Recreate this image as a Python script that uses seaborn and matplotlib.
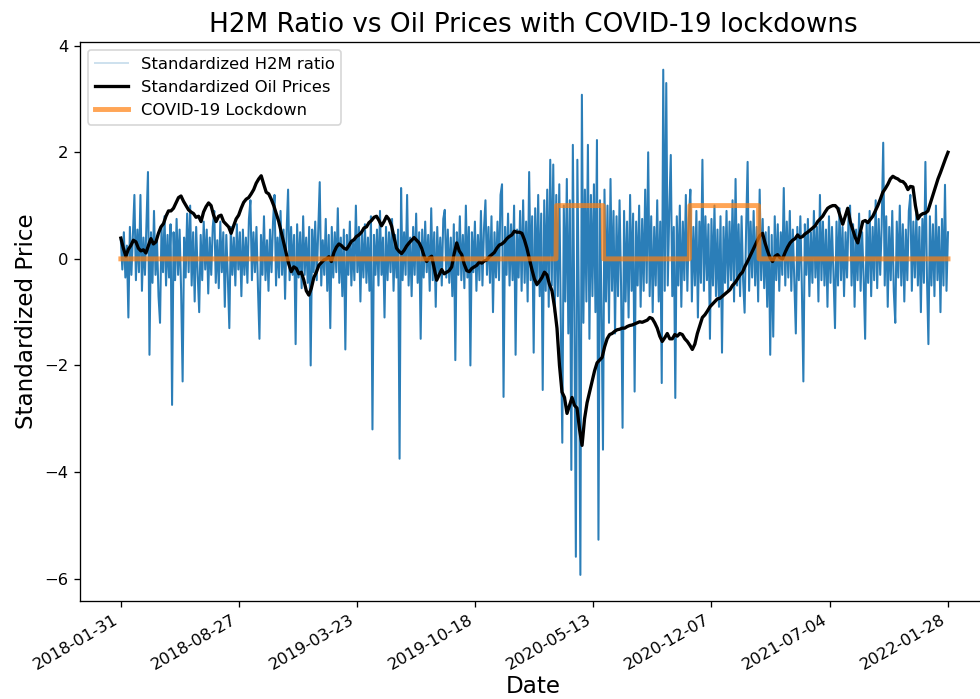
import numpy as np
import pandas as pd
import seaborn as sns
import matplotlib.pyplot as plt
import matplotlib.dates as mdates

# date span of both series
start_date = "2018-01-31"
end_date = "2022-01-28"

# standardized H2M ratio (evenly spaced in time)
h2m_ratio = [
    0.35, -0.2, 0.5, -0.35, 0.25, -1.1, 0.6, -0.3, 0.45, 1.2,
    -0.4, 0.55, -0.25, 1.2, -0.6, 0.4, -0.3, 0.7, 1.63, -1.8,
    0.5, -0.45, 0.9, -0.3, 0.35, -0.7, -1.2, 0.6, -0.25, 0.8,
    -0.5, 0.45, -0.35, 0.65, -2.74, 0.5, -0.4, 0.75, -0.3, 0.55,
    -0.6, -2.3, 0.4, -0.35, 0.85, -0.25, 1.0, -0.5, 0.5, -0.8,
    0.6, -0.3, -1.0, 0.45, -0.4, 0.7, -0.2, 0.55, -0.65, 0.4,
    -0.3, 0.6, 0.9, -0.45, 0.35, -0.55, 0.7, -0.25, 0.5, -0.9,
    0.45, -0.35, -1.3, 0.6, -0.3, 0.4, -0.5, 0.65, -0.2, 0.5,
    -0.7, 0.55, -0.3, 0.4, -0.45, 0.75, 1.1, -0.4, 0.5, -0.25,
    0.6, -0.55, -1.5, 0.45, -0.3, 0.8, -0.4, 0.35, -0.6, 0.55,
    -0.25, 0.7, 1.2, -0.5, 0.4, -0.35, 0.9, -0.3, 0.55, -0.75,
    0.5, 1.3, -0.4, 0.6, -0.3, 0.45, -1.6, 0.65, -0.35, 0.5,
    -0.55, 0.8, -0.3, 0.4, -0.45, 0.6, -2.0, 0.55, -0.25, 0.7,
    -0.4, 0.5, 1.44, -0.5, 0.35, -0.3, 0.75, -0.6, 0.45, -1.3,
    0.6, -0.35, 0.5, -0.25, 0.95, -0.45, 0.4, -0.7, 0.55, -1.7,
    0.45, -0.3, 0.7, -0.5, 0.35, -0.4, 1.0, -0.25, 0.6, -0.8,
    0.5, -0.35, 0.65, -0.45, 0.4, -0.6, 0.8, -3.2, 0.45, -0.3,
    0.55, -0.5, 0.9, -0.3, 0.4, -1.1, 0.6, -0.4, 0.5, -0.25,
    0.75, -0.6, 0.45, -0.35, 0.55, -3.75, 1.33, -0.4, 0.5, -0.3,
    1.2, -0.5, 0.4, -0.7, 0.6, -0.3, 0.85, -0.45, 0.5, -1.5,
    0.55, -0.35, 0.7, -0.25, 0.45, -0.6, 0.95, -0.4, 0.5, -0.9,
    0.6, -0.3, 0.4, -0.5, 0.75, 0.92, -0.35, 0.55, -0.45, 0.4,
    -0.7, 0.65, -1.9, 0.5, -0.3, 0.8, -0.4, 0.45, -0.55, 1.0,
    -0.35, 0.6, -2.0, 0.5, -0.25, 0.7, -0.6, 0.45, -0.4, 0.9,
    -0.5, 0.55, 1.1, -0.3, 0.6, -0.45, 0.8, -1.0, 0.5, -0.35,
    0.7, -0.4, 1.2, 1.4, -2.59, 0.6, -0.3, 0.85, -0.5, 0.65,
    -0.4, 1.0, -1.8, 0.55, -0.35, 0.9, -0.6, 1.1, -0.45, 0.7,
    -0.8, 1.63, -0.4, 0.8, -1.76, 0.95, -0.5, 1.2, -0.7, 0.85,
    -2.46, 1.1, -0.6, 1.3, -0.9, 1.86, -0.5, 1.77, -1.0, 1.2,
    -0.7, 1.4, -1.2, -3.45, 1.0, -0.8, 1.5, -1.4, 1.1, -3.96,
    2.14, -1.0, -5.59, 1.86, -0.9, -5.93, 3.08, -1.2, 1.3, -0.8,
    2.14, -1.5, 1.2, -0.7, 1.4, -1.0, 2.23, -5.27, 1.1, -0.9,
    -3.58, 1.3, -0.8, 1.0, -1.2, 1.5, -0.6, 0.9, -1.4, 0.8,
    -0.7, 1.1, -0.5, -3.17, 0.9, -0.8, 0.7, -1.1, 1.2, -0.6,
    0.85, -2.49, 0.7, -0.5, 1.0, -0.9, 0.75, -0.6, 1.3, -0.45,
    2.0, -0.7, 0.8, -1.0, 0.6, -0.5, 1.1, -0.8, 0.7, -2.33,
    3.55, -0.6, 3.3, -0.5, 0.9, 1.95, -0.7, 0.6, -2.61, 0.8,
    -0.5, 1.0, -0.9, 0.7, -0.4, 1.2, -0.6, 0.75, 1.3, -0.8,
    0.6, -0.5, 0.9, -1.1, 0.7, -0.45, 1.86, -0.6, 0.8, -0.4,
    0.65, -1.5, 0.75, -0.5, 1.0, -0.7, 0.55, -0.9, 0.8, -1.76,
    0.6, -0.45, 0.9, -0.6, 0.7, -0.4, 1.1, -0.8, 1.5, -0.5,
    0.65, -0.7, 0.8, -0.4, -1.01, 0.55, 1.82, -0.6, 0.7, -0.35,
    0.9, -0.5, 0.6, -0.8, 1.3, -0.4, 0.75, -0.55, 0.5, -0.9,
    0.6, -1.8, 0.45, -1.46, 0.8, -0.4, 0.65, -0.6, 0.5, -0.3,
    1.33, -0.5, 0.7, -0.35, 0.9, -0.6, 0.55, -0.45, -1.4, 0.6,
    -0.4, 0.8, -0.55, -2.3, 0.65, -0.3, 0.75, -0.7, 0.5, -0.45,
    0.9, -0.35, 0.6, -0.8, 1.2, -0.4, 0.7, -0.5, 0.55, -0.9,
    0.8, -0.45, 0.6, -0.3, -1.3, 0.7, -0.5, 0.95, -0.4, 0.6,
    -0.7, 0.5, -0.35, 0.8, 1.0, -0.5, 0.65, -0.9, 0.55, -0.4,
    0.85, -0.6, 0.5, -0.35, -1.5, 0.7, -0.45, 0.9, -0.7, 0.6,
    -0.4, 1.1, -0.55, 0.75, -0.3, 0.65, 2.18, -0.5, 0.8, -0.9,
    0.6, -0.4, 0.9, -0.6, -1.2, 0.7, -0.35, 1.0, -0.5, 0.65,
    -0.8, 0.55, -0.4, 0.9, 1.2, -0.6, 0.7, -0.35, 0.85, -0.5,
    0.6, -1.0, 0.75, -0.45, 1.82, -0.3, -1.6, 0.8, -0.5, 0.65,
    -0.7, 1.0, -0.4, 0.6, -1.0, 0.75, -0.5, 1.39, -0.6, 0.5,
]

# standardized oil prices (evenly spaced in time)
oil_prices = [
    0.39, 0.2, 0.05, 0.18, 0.25, 0.35, 0.32, 0.2, 0.15, 0.17, 0.11, 0.25, 0.38, 0.28, 0.32, 0.48, 0.6, 0.66, 0.8, 0.9,
    0.9, 0.95, 1.05, 1.15, 1.18, 1.08, 1.0, 0.92, 0.88, 0.85, 0.78, 0.8, 0.7, 0.88, 0.98, 1.05, 1.0, 0.82, 0.7, 0.8,
    0.82, 0.7, 0.65, 0.6, 0.48, 0.62, 0.75, 0.82, 0.95, 1.06, 1.12, 1.15, 1.22, 1.3, 1.42, 1.5, 1.56, 1.4, 1.25, 1.22,
    1.12, 1.0, 0.85, 0.7, 0.5, 0.3, 0.1, -0.1, -0.24, -0.15, -0.18, -0.28, -0.25, -0.4, -0.6, -0.68, -0.55, -0.35, -0.25, -0.12,
    -0.07, -0.02, 0.0, 0.04, -0.05, 0.12, 0.22, 0.28, 0.25, 0.2, 0.18, 0.25, 0.33, 0.36, 0.42, 0.45, 0.5, 0.58, 0.6, 0.68,
    0.72, 0.78, 0.8, 0.72, 0.62, 0.7, 0.8, 0.74, 0.62, 0.4, 0.2, 0.14, 0.1, 0.16, 0.24, 0.3, 0.35, 0.4, 0.35, 0.3,
    0.2, 0.05, -0.05, 0.02, 0.05, -0.18, -0.4, -0.3, -0.2, -0.28, -0.25, -0.22, -0.15, 0.1, 0.3, 0.15, 0.08, -0.1, -0.22, -0.24,
    -0.18, -0.15, -0.12, -0.06, -0.08, -0.04, -0.02, 0.04, 0.08, 0.12, 0.2, 0.26, 0.28, 0.32, 0.38, 0.42, 0.45, 0.52, 0.5, 0.5,
    0.48, 0.36, 0.2, 0.0, -0.2, -0.38, -0.48, -0.42, -0.35, -0.25, -0.3, -0.48, -0.6, -0.9, -1.3, -2.0, -2.5, -2.6, -2.9, -2.75,
    -2.6, -2.75, -2.8, -3.2, -3.5, -3.0, -2.7, -2.5, -2.3, -2.1, -1.95, -1.9, -1.85, -1.65, -1.5, -1.42, -1.4, -1.36, -1.33, -1.32,
    -1.3, -1.3, -1.27, -1.25, -1.24, -1.22, -1.2, -1.18, -1.19, -1.17, -1.15, -1.1, -1.12, -1.2, -1.3, -1.45, -1.55, -1.48, -1.4, -1.5,
    -1.5, -1.42, -1.45, -1.4, -1.42, -1.5, -1.55, -1.62, -1.7, -1.6, -1.4, -1.25, -1.1, -1.05, -0.98, -0.9, -0.85, -0.8, -0.75, -0.74,
    -0.7, -0.66, -0.62, -0.58, -0.5, -0.45, -0.38, -0.3, -0.25, -0.14, -0.05, 0.05, 0.15, 0.25, 0.35, 0.44, 0.48, 0.3, 0.15, 0.02,
    -0.05, 0.05, 0.08, 0.02, 0.0, 0.12, 0.22, 0.3, 0.35, 0.38, 0.45, 0.4, 0.42, 0.47, 0.5, 0.54, 0.58, 0.62, 0.7, 0.75,
    0.8, 0.88, 0.95, 0.98, 1.0, 1.0, 0.95, 0.8, 0.65, 0.8, 0.95, 0.7, 0.55, 0.4, 0.3, 0.5, 0.7, 0.72, 0.68, 0.74,
    0.8, 0.9, 1.0, 1.12, 1.25, 1.32, 1.4, 1.5, 1.55, 1.52, 1.5, 1.46, 1.45, 1.4, 1.3, 1.36, 1.35, 1.0, 0.75, 0.82,
    0.85, 0.86, 0.9, 1.05, 1.2, 1.35, 1.5, 1.62, 1.75, 1.88, 2.0,
]

# lockdown periods (start, end)
lockdown_periods = [("2020-03-09", "2020-05-31"), ("2020-10-30", "2021-03-01")]

tick_dates = ["2018-01-31", "2018-08-27", "2019-03-23", "2019-10-18",
              "2020-05-13", "2020-12-07", "2021-07-04", "2022-01-28"]

h2m_dates = pd.date_range(start_date, end_date, periods=len(h2m_ratio))
oil_dates = pd.date_range(start_date, end_date, periods=len(oil_prices))

# daily 0/1 lockdown indicator
days = pd.date_range(start_date, end_date, freq="D")
lockdown = np.zeros(len(days))
for s, e in lockdown_periods:
    lockdown[(days >= s) & (days < e)] = 1

dpi = 118
fig = plt.figure(figsize=(980 / dpi + 1e-4, 699 / dpi + 1e-4), dpi=dpi)
# the original picture is cut off on the right, so the axes run past the edge
ax = fig.add_axes([80 / 980, 1 - 601 / 699, 906 / 980, (601 - 42) / 699])

sns.lineplot(x=h2m_dates, y=h2m_ratio, ax=ax, color="C0", lw=1.25, alpha=0.95,
             label="Standardized H2M ratio")
sns.lineplot(x=oil_dates, y=oil_prices, ax=ax, color="black", lw=2,
             label="Standardized Oil Prices")
sns.lineplot(x=days, y=lockdown, ax=ax, color="C1", lw=3, alpha=0.7,
             label="COVID-19 Lockdown")

ax.set_ylim(-6.42, 4.07)
ax.set_xlim(pd.Timestamp(start_date) - pd.Timedelta(days=72),
            pd.Timestamp(end_date) + pd.Timedelta(days=67))
ax.spines["right"].set_visible(False)
ax.set_xticks(pd.to_datetime(tick_dates))
ax.xaxis.set_major_formatter(mdates.DateFormatter("%Y-%m-%d"))
plt.setp(ax.get_xticklabels(), rotation=30, ha="right")

ax.set_title("H2M Ratio vs Oil Prices with COVID-19 lockdowns", fontsize=16)
ax.set_xlabel("Date", fontsize=14, labelpad=1)
ax.set_ylabel("Standardized Price", fontsize=14)

leg = ax.legend(loc="upper left")
# the dense series shows as a thin pale line in the legend
leg.legend_handles[0].set_linewidth(1.2)
leg.legend_handles[0].set_alpha(0.22)

fig.savefig("out.png", dpi=dpi)
